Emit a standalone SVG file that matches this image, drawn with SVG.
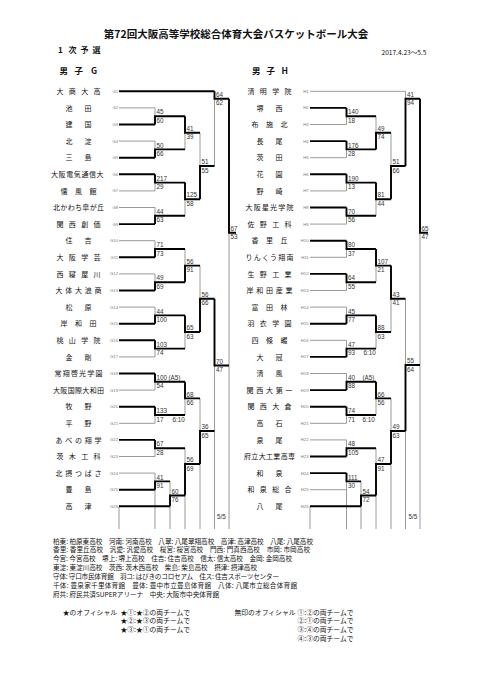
<svg xmlns="http://www.w3.org/2000/svg" width="482" height="680" viewBox="0 0 482 680">
<style>
.t{font-family:"Noto Sans CJK JP","Noto Sans CJK SC",sans-serif;fill:#111}
.nm{font-size:7px}
.lb{font-family:"Liberation Sans",sans-serif;font-size:4.2px;fill:#777;text-anchor:end}
.sc{font-family:"Liberation Sans",sans-serif;font-size:6.3px;fill:#333}
.thin{fill:none;stroke:#8f8f8f;stroke-width:0.9}
.thick{fill:none;stroke:#000;stroke-width:1.9;stroke-linejoin:miter}
.ft{font-family:"Noto Sans CJK JP",sans-serif;font-size:6.6px;fill:#111}
.of{font-family:"Noto Sans CJK JP",sans-serif;font-size:6.8px;fill:#111}
</style>
<rect width="482" height="680" fill="#fff"/>
<g id="header">
<text class="t" x="236" y="37.5" font-size="10.5" font-weight="bold" text-anchor="middle">第72回大阪高等学校総合体育大会バスケットボール大会</text>
<text class="t" x="58 68.5 80.5 92.5" y="53" font-size="8" font-weight="bold">1次予選</text>
<text class="t" x="404" y="54.5" font-size="6.6" text-anchor="middle">2017.4.23～5.5</text>
<text class="t" x="59.5 74.5 91" y="74" font-size="8.5" font-weight="bold">男子G</text>
<text class="t" x="252 266.5 281.5" y="74" font-size="8.5" font-weight="bold">男子H</text>
</g>
<g id="connectors">
<path class="thin" d="M119 107.9H155M119 141.1H155M119 190.9H155M119 207.5H155M119 240.7H155M119 273.9H155M119 307.1H155M119 356.9H155M119 390.1H155M119 423.3H155M119 456.5H155M119 473.1H155
M155 107.9V116.2M155 141.1V149.4M155 182.6V190.9M155 207.5V215.8M155 240.7V249M155 273.9V282.2M155 307.1V315.4M155 348.6V356.9M155 381.8V390.1M155 415V423.3M155 448.2V456.5M155 473.1V481.4
M185 132.8V149.4M185 199.2V215.8M185 249V265.6M185 332V348.6M185 398.4V415M185 448.2V464
M170 481.4V495.5
M200 132.8V166M200 265.6V298.8M200 398.4V431
M214.5 98.7V166M214.5 365.5V431
M229 232.7V365.5
M119 506.3V529M155 489.7V529M170 506.3V529M185 495.5V529M200 464V529M214.5 431V529M229 365.5V529"/>
<path class="thin" d="M310 91.3H405.5M310 124.5H346.5M310 157.7H346.5M310 190.9H346.5M310 224.1H346.5M310 257.3H346.5M310 290.5H346.5M310 307.1H346.5M310 340.3H346.5M310 373.5H346.5M310 423.3H346.5M310 439.9H346.5M310 489.7H346.5
M346.5 116.2V124.5M346.5 149.4V157.7M346.5 182.6V190.9M346.5 215.8V224.1M346.5 249V257.3M346.5 282.2V290.5M346.5 307.1V315.4M346.5 340.3V348.6M346.5 373.5V381.8M346.5 415V423.3M346.5 439.9V448.2M346.5 481.4V489.7
M376 116.2V132.8M376 199.2V215.8M376 265.6V282.2M376 332V348.6M376 398.4V415M376 448.2V464
M361 481.4V495.5
M391 132.8V166M391 298.8V332M391 398.4V431
M405.5 91.3V98.7M405.5 298.8V365
M420 232.7V365
M310 506.3V529M346.5 489.7V529M361 506.3V529M376 495.5V529M391 464V529M405.5 431V529M420 365V529"/>
<path class="thick" d="M119 91.3H214.5M119 124.5H155M119 157.7H155M119 174.3H155M119 224.1H155M119 257.3H155M119 290.5H155M119 323.7H155M119 340.3H155M119 373.5H155M119 406.7H155M119 439.9H155M119 489.7H155M119 506.3H170
M155 124.5V116.2H185M155 157.7V149.4H185M155 174.3V182.6H185M155 224.1V215.8H185M155 257.3V249H185M155 290.5V282.2H185M155 323.7V315.4H185M155 340.3V348.6H185M155 373.5V381.8H185M155 406.7V415H185M155 439.9V448.2H185M155 489.7V481.4H170
M170 506.3V495.5H185
M185 116.2V132.8H200M185 182.6V199.2H200M185 282.2V265.6H200M185 315.4V332H200M185 381.8V398.4H200M185 495.5V464H200
M200 199.2V166H214.5M200 332V298.8H214.5M200 464V431H214.5
M214.5 91.3V98.7H229M214.5 298.8V365.5H229
M229 98.7V232.7H236"/>
<path class="thick" d="M310 107.9H346.5M310 141.1H346.5M310 174.3H346.5M310 207.5H346.5M310 240.7H346.5M310 273.9H346.5M310 323.7H346.5M310 356.9H346.5M310 390.1H346.5M310 406.7H346.5M310 456.5H346.5M310 473.1H346.5M310 506.3H361
M346.5 107.9V116.2H376M346.5 141.1V149.4H376M346.5 174.3V182.6H376M346.5 207.5V215.8H376M346.5 240.7V249H376M346.5 273.9V282.2H376M346.5 323.7V315.4H376M346.5 356.9V348.6H376M346.5 390.1V381.8H376M346.5 406.7V415H376M346.5 456.5V448.2H376M346.5 473.1V481.4H361
M361 506.3V495.5H376
M376 149.4V132.8H391M376 182.6V199.2H391M376 249V265.6H391M376 315.4V332H391M376 381.8V398.4H391M376 495.5V464H391
M391 199.2V166H405.5M391 265.6V298.8H405.5M391 464V431H405.5
M405.5 166V98.7H420M405.5 431V365H420
M420 98.7V232.7H428"/>
</g>
<g id="scores-G" class="sc">
<text x="156.5" y="114.4">45</text><text x="156.5" y="122.8">60</text>
<text x="156.5" y="147.6">50</text><text x="156.5" y="156">66</text>
<text x="186.5" y="131">41</text><text x="186.5" y="139.4">39</text>
<text x="156.5" y="180.8">217</text><text x="156.5" y="189.2">29</text>
<text x="156.5" y="214">44</text><text x="156.5" y="222.4">63</text>
<text x="186.5" y="197.4">125</text><text x="186.5" y="205.8">58</text>
<text x="201.5" y="164.2">51</text><text x="201.5" y="172.6">55</text>
<text x="216" y="96.9">64</text><text x="216" y="105.3">62</text>
<text x="156.5" y="247.2">71</text><text x="156.5" y="255.6">73</text>
<text x="156.5" y="280.4">49</text><text x="156.5" y="288.8">69</text>
<text x="186.5" y="263.8">56</text><text x="186.5" y="272.2">91</text>
<text x="156.5" y="313.6">44</text><text x="156.5" y="322">100</text>
<text x="156.5" y="346.8">103</text><text x="156.5" y="355.2">74</text>
<text x="186.5" y="330.2">65</text><text x="186.5" y="338.6">63</text>
<text x="201.5" y="297">56</text><text x="201.5" y="305.4">66</text>
<text x="156.5" y="380">100</text><text x="168.5" y="380">(A5)</text><text x="156.5" y="388.4">54</text>
<text x="156.5" y="413.2">133</text><text x="156.5" y="421.6">17</text><text x="172.5" y="421.6">6:10</text>
<text x="186.5" y="396.6">68</text><text x="186.5" y="405">66</text>
<text x="156.5" y="446.4">67</text><text x="156.5" y="454.8">28</text>
<text x="156.5" y="479.6">41</text><text x="156.5" y="488">91</text>
<text x="171.5" y="493.7">60</text><text x="171.5" y="502.1">76</text>
<text x="186.5" y="462.2">56</text><text x="186.5" y="470.6">69</text>
<text x="201.5" y="429.2">36</text><text x="201.5" y="437.6">65</text>
<text x="216" y="363.7">70</text><text x="216" y="372.1">47</text>
<text x="230.5" y="230.9">67</text><text x="230.5" y="239.3">53</text>
<text x="217" y="519">5/5</text>
</g>
<g id="scores-H" class="sc">
<text x="348" y="114.4">140</text><text x="348" y="122.8">18</text>
<text x="348" y="147.6">176</text><text x="348" y="156">28</text>
<text x="377.5" y="131">49</text><text x="377.5" y="139.4">74</text>
<text x="348" y="180.8">190</text><text x="348" y="189.2">13</text>
<text x="348" y="214">70</text><text x="348" y="222.4">56</text>
<text x="377.5" y="197.4">81</text><text x="377.5" y="205.8">44</text>
<text x="392.5" y="164.2">51</text><text x="392.5" y="172.6">66</text>
<text x="407" y="96.9">41</text><text x="407" y="105.3">94</text>
<text x="348" y="247.2">80</text><text x="348" y="255.6">37</text>
<text x="348" y="280.4">64</text><text x="348" y="288.8">55</text>
<text x="377.5" y="263.8">107</text><text x="377.5" y="272.2">21</text>
<text x="348" y="313.6">45</text><text x="348" y="322">77</text>
<text x="348" y="346.8">47</text><text x="348" y="355.2">93</text><text x="363.5" y="355.2">6:10</text>
<text x="377.5" y="330.2">88</text><text x="377.5" y="338.6">63</text>
<text x="392.5" y="297">43</text><text x="392.5" y="305.4">41</text>
<text x="348" y="380">40</text><text x="362.5" y="380">(A5)</text><text x="348" y="388.4">88</text>
<text x="348" y="413.2">74</text><text x="348" y="421.6">71</text><text x="362.5" y="421.6">6:10</text>
<text x="377.5" y="396.6">66</text><text x="377.5" y="405">56</text>
<text x="348" y="446.4">48</text><text x="348" y="454.8">105</text>
<text x="348" y="479.6">111</text><text x="348" y="488">30</text>
<text x="362.5" y="493.7">54</text><text x="362.5" y="502.1">72</text>
<text x="377.5" y="462.2">47</text><text x="377.5" y="470.6">91</text>
<text x="392.5" y="429.2">49</text><text x="392.5" y="437.6">63</text>
<text x="407" y="363.2">55</text><text x="407" y="371.6">64</text>
<text x="421.5" y="230.9">65</text><text x="421.5" y="239.3">47</text>
<text x="408.5" y="519">5/5</text>
</g>
<g id="G1"><text class="t nm" x="56.5 68.8 81.2 93.5" y="93.9">大商大高</text><text class="lb" x="118" y="92.8">G1</text></g>
<g id="G2"><text class="t nm" x="65.5 84.5" y="110.5">池田</text><text class="lb" x="118" y="109.4">G2</text></g>
<g id="G3"><text class="t nm" x="65.5 84.5" y="127.1">建国</text><text class="lb" x="118" y="126">G3</text></g>
<g id="G4"><text class="t nm" x="65.5 84.5" y="143.7">北淀</text><text class="lb" x="118" y="142.6">G4</text></g>
<g id="G5"><text class="t nm" x="65.5 84.5" y="160.3">三島</text><text class="lb" x="118" y="159.2">G5</text></g>
<g id="G6"><text class="t nm" x="51 58.6 66.2 73.8 81.4 89 96.6" y="176.9">大阪電気通信大</text><text class="lb" x="118" y="175.8">G6</text></g>
<g id="G7"><text class="t nm" x="60.5 75 89.5" y="193.5">懐風館</text><text class="lb" x="118" y="192.4">G7</text></g>
<g id="G8"><text class="t nm" x="53 60.3 67.7 75 82.3 89.7 97" y="210.1">北かわち皐が丘</text><text class="lb" x="118" y="209">G8</text></g>
<g id="G9"><text class="t nm" x="56.5 68.8 81.2 93.5" y="226.7">関西創価</text><text class="lb" x="118" y="225.6">G9</text></g>
<g id="G10"><text class="t nm" x="65.5 84.5" y="243.3">住吉</text><text class="lb" x="118" y="242.2">G10</text></g>
<g id="G11"><text class="t nm" x="56.5 68.8 81.2 93.5" y="259.9">大阪学芸</text><text class="lb" x="118" y="258.8">G11</text></g>
<g id="G12"><text class="t nm" x="56.5 68.8 81.2 93.5" y="276.5">西寝屋川</text><text class="lb" x="118" y="275.4">G12</text></g>
<g id="G13"><text class="t nm" x="55.5 65.3 75 84.8 94.5" y="293.1">大体大浪商</text><text class="lb" x="118" y="292">G13</text></g>
<g id="G14"><text class="t nm" x="65.5 84.5" y="309.7">松原</text><text class="lb" x="118" y="308.6">G14</text></g>
<g id="G15"><text class="t nm" x="60.5 75 89.5" y="326.3">岸和田</text><text class="lb" x="118" y="325.2">G15</text></g>
<g id="G16"><text class="t nm" x="56.5 68.8 81.2 93.5" y="342.9">桃山学院</text><text class="lb" x="118" y="341.8">G16</text></g>
<g id="G17"><text class="t nm" x="65.5 84.5" y="359.5">金剛</text><text class="lb" x="118" y="358.4">G17</text></g>
<g id="G18"><text class="t nm" x="54.5 62.7 70.9 79.1 87.3 95.5" y="376.1">常翔啓光学園</text><text class="lb" x="118" y="375">G18</text></g>
<g id="G19"><text class="t nm" x="53 60.3 67.7 75 82.3 89.7 97" y="392.7">大阪国際大和田</text><text class="lb" x="118" y="391.6">G19</text></g>
<g id="G20"><text class="t nm" x="65.5 84.5" y="409.3">牧野</text><text class="lb" x="118" y="408.2">G20</text></g>
<g id="G21"><text class="t nm" x="65.5 84.5" y="425.9">平野</text><text class="lb" x="118" y="424.8">G21</text></g>
<g id="G22"><text class="t nm" x="55.5 65.3 75 84.8 94.5" y="442.5">あべの翔学</text><text class="lb" x="118" y="441.4">G22</text></g>
<g id="G23"><text class="t nm" x="56.5 68.8 81.2 93.5" y="459.1">茨木工科</text><text class="lb" x="118" y="458">G23</text></g>
<g id="G24"><text class="t nm" x="55.5 65.3 75 84.8 94.5" y="475.7">北摂つばさ</text><text class="lb" x="118" y="474.6">G24</text></g>
<g id="G25"><text class="t nm" x="65.5 84.5" y="492.3">豊島</text><text class="lb" x="118" y="491.2">G25</text></g>
<g id="G26"><text class="t nm" x="65.5 84.5" y="508.9">高津</text><text class="lb" x="118" y="507.8">G26</text></g>
<g id="H1"><text class="t nm" x="247.5 259.8 272.2 284.5" y="93.9">清明学院</text><text class="lb" x="308.5" y="92.8">H1</text></g>
<g id="H2"><text class="t nm" x="256.5 275.5" y="110.5">堺西</text><text class="lb" x="308.5" y="109.4">H2</text></g>
<g id="H3"><text class="t nm" x="251.5 266 280.5" y="127.1">布施北</text><text class="lb" x="308.5" y="126">H3</text></g>
<g id="H4"><text class="t nm" x="256.5 275.5" y="143.7">長尾</text><text class="lb" x="308.5" y="142.6">H4</text></g>
<g id="H5"><text class="t nm" x="256.5 275.5" y="160.3">茨田</text><text class="lb" x="308.5" y="159.2">H5</text></g>
<g id="H6"><text class="t nm" x="256.5 275.5" y="176.9">花園</text><text class="lb" x="308.5" y="175.8">H6</text></g>
<g id="H7"><text class="t nm" x="256.5 275.5" y="193.5">野崎</text><text class="lb" x="308.5" y="192.4">H7</text></g>
<g id="H8"><text class="t nm" x="245.5 253.7 261.9 270.1 278.3 286.5" y="210.1">大阪星光学院</text><text class="lb" x="308.5" y="209">H8</text></g>
<g id="H9"><text class="t nm" x="247.5 259.8 272.2 284.5" y="226.7">佐野工科</text><text class="lb" x="308.5" y="225.6">H9</text></g>
<g id="H10"><text class="t nm" x="251.5 266 280.5" y="243.3">香里丘</text><text class="lb" x="308.5" y="242.2">H10</text></g>
<g id="H11"><text class="t nm" x="245.5 253.7 261.9 270.1 278.3 286.5" y="259.9">りんくう翔南</text><text class="lb" x="308.5" y="258.8">H11</text></g>
<g id="H12"><text class="t nm" x="247.5 259.8 272.2 284.5" y="276.5">生野工業</text><text class="lb" x="308.5" y="275.4">H12</text></g>
<g id="H13"><text class="t nm" x="246.5 256.3 266 275.8 285.5" y="293.1">岸和田産業</text><text class="lb" x="308.5" y="292">H13</text></g>
<g id="H14"><text class="t nm" x="251.5 266 280.5" y="309.7">富田林</text><text class="lb" x="308.5" y="308.6">H14</text></g>
<g id="H15"><text class="t nm" x="247.5 259.8 272.2 284.5" y="326.3">羽衣学園</text><text class="lb" x="308.5" y="325.2">H15</text></g>
<g id="H16"><text class="t nm" x="251.5 266 280.5" y="342.9">四條畷</text><text class="lb" x="308.5" y="341.8">H16</text></g>
<g id="H17"><text class="t nm" x="256.5 275.5" y="359.5">大冠</text><text class="lb" x="308.5" y="358.4">H17</text></g>
<g id="H18"><text class="t nm" x="256.5 275.5" y="376.1">清風</text><text class="lb" x="308.5" y="375">H18</text></g>
<g id="H19"><text class="t nm" x="246.5 256.3 266 275.8 285.5" y="392.7">関西大第一</text><text class="lb" x="308.5" y="391.6">H19</text></g>
<g id="H20"><text class="t nm" x="247.5 259.8 272.2 284.5" y="409.3">関西大倉</text><text class="lb" x="308.5" y="408.2">H20</text></g>
<g id="H21"><text class="t nm" x="256.5 275.5" y="425.9">高石</text><text class="lb" x="308.5" y="424.8">H21</text></g>
<g id="H22"><text class="t nm" x="256.5 275.5" y="442.5">泉尾</text><text class="lb" x="308.5" y="441.4">H22</text></g>
<g id="H23"><text class="t nm" x="244 251.3 258.7 266 273.3 280.7 288" y="459.1">府立大工業高専</text><text class="lb" x="308.5" y="458">H23</text></g>
<g id="H24"><text class="t nm" x="256.5 275.5" y="475.7">和泉</text><text class="lb" x="308.5" y="474.6">H24</text></g>
<g id="H25"><text class="t nm" x="247.5 259.8 272.2 284.5" y="492.3">和泉総合</text><text class="lb" x="308.5" y="491.2">H25</text></g>
<g id="H26"><text class="t nm" x="256.5 275.5" y="508.9">八尾</text><text class="lb" x="308.5" y="507.8">H26</text></g>
<g id="legend">
<text class="ft" x="53" y="543.5" textLength="260" lengthAdjust="spacing">柏東: 柏原東高校　河南: 河南高校　八翠: 八尾翠翔高校　高津: 高津高校　八尾: 八尾高校</text>
<text class="ft" x="53" y="552.3" textLength="257" lengthAdjust="spacing">香里: 香里丘高校　汎愛: 汎愛高校　桜宮: 桜宮高校　門西: 門真西高校　市岡: 市岡高校</text>
<text class="ft" x="53" y="561.2" textLength="239" lengthAdjust="spacing">今宮: 今宮高校　堺上: 堺上高校　住吉: 住吉高校　信太: 信太高校　金岡: 金岡高校</text>
<text class="ft" x="53" y="570" textLength="204" lengthAdjust="spacing">東淀: 東淀川高校　茨西: 茨木西高校　柴島: 柴島高校　摂津: 摂津高校</text>
<text class="ft" x="53" y="578.8" textLength="226" lengthAdjust="spacing">守体: 守口市民体育館　羽コ: はびきのコロセアム　住ス: 住吉スポーツセンター</text>
<text class="ft" x="53" y="587.7" textLength="244" lengthAdjust="spacing">千体: 豊泉家千里体育館　豊体: 豊中市立豊島体育館　八体: 八尾市立総合体育館</text>
<text class="ft" x="53" y="596.5">府共: 府民共済SUPERアリーナ　中央: 大阪市中央体育館</text>
</g>
<g id="officials">
<text class="of" x="117" y="614.5" text-anchor="end">★のオフィシャル</text>
<text class="of" x="120.5" y="614.5">★①:★②の両チームで</text>
<text class="of" x="120.5" y="623.2">★②:★③の両チームで</text>
<text class="of" x="120.5" y="631.9">★③:★①の両チームで</text>
<text class="of" x="295.5" y="614.5" text-anchor="end">無印のオフィシャル</text>
<text class="of" x="297.5" y="614.5">①:②の両チームで</text>
<text class="of" x="297.5" y="623.2">②:①の両チームで</text>
<text class="of" x="297.5" y="631.9">③:④の両チームで</text>
<text class="of" x="297.5" y="640.6">④:③の両チームで</text>
</g>
</svg>
